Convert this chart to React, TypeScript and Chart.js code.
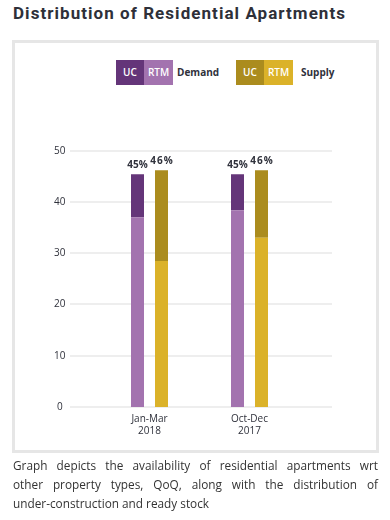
import React, { useEffect, useRef } from "react";
import { Chart, registerables } from "chart.js";

Chart.register(...registerables);

const categories = [["Jan-Mar", "2018"], ["Oct-Dec", "2017"]];
const demandRTM = [37.0, 38.4];
const demandUC = [8.4, 7.0];
const supplyRTM = [28.5, 33.0];
const supplyUC = [17.7, 13.2];
const demandLabels = ["45%", "45%"];
const supplyLabels = ["46%", "46%"];
const yMax = 50;
const yStep = 10;
const captionLines = [
  "Graph depicts the availability of residential apartments wrt",
  "other property types, QoQ, along with the distribution of",
  "under-construction and ready stock",
];

const COL_DEMAND_UC = "#643579";
const COL_DEMAND_RTM = "#a373af";
const COL_SUPPLY_UC = "#ab8c1e";
const COL_SUPPLY_RTM = "#dbb229";
const TEXT = "#2f313b";

const gridPlugin = {
  id: "extGrid",
  beforeDatasetsDraw(chart: any) {
    const { ctx, chartArea, scales } = chart;
    const y = scales.y;
    ctx.save();
    ctx.strokeStyle = "#eeeeee";
    ctx.lineWidth = 2;
    y.ticks.forEach((t: any) => {
      const py = Math.round(y.getPixelForValue(t.value));
      ctx.beginPath();
      ctx.moveTo(chartArea.left - 29.5, py);
      ctx.lineTo(chartArea.right + 32.5, py);
      ctx.stroke();
    });
    ctx.restore();
  },
};

const labelPlugin = {
  id: "topLabels",
  afterDatasetsDraw(chart: any) {
    const { ctx } = chart;
    ctx.save();
    ctx.font = "bold 10px 'Open Sans'";
    ctx.fillStyle = TEXT;
    ctx.textAlign = "center";
    ctx.textBaseline = "bottom";
    const pairs: [number, string[], number][] = [
      [1, demandLabels, 0],
      [3, supplyLabels, 1],
    ];
    pairs.forEach(([di, labels, sp]) => {
      const meta = chart.getDatasetMeta(di);
      meta.data.forEach((el: any, i: number) => {
        (ctx as any).letterSpacing = sp ? "1px" : "0px";
        ctx.fillText(labels[i], el.x + (sp ? 0.5 : 0), el.y - 4);
      });
    });
    ctx.restore();
  },
};

function ChartView() {
  const ref = useRef<HTMLCanvasElement | null>(null);
  useEffect(() => {
    if (!ref.current) return;
    const chart = new Chart(ref.current, {
      type: "bar",
      data: {
        labels: categories as any,
        datasets: [
          { label: "Demand RTM", data: demandRTM, backgroundColor: COL_DEMAND_RTM, stack: "Demand" },
          { label: "Demand UC", data: demandUC, backgroundColor: COL_DEMAND_UC, stack: "Demand" },
          { label: "Supply RTM", data: supplyRTM, backgroundColor: COL_SUPPLY_RTM, stack: "Supply" },
          { label: "Supply UC", data: supplyUC, backgroundColor: COL_SUPPLY_UC, stack: "Supply" },
        ],
      },
      options: {
        responsive: false,
        animation: false,
        devicePixelRatio: 1,
        layout: { padding: { left: 39.5, right: 90.5, top: 150.7, bottom: 83 } },
        datasets: {
          bar: { categoryPercentage: 0.48, barPercentage: 13 / 24, borderWidth: 0 } as any,
        },
        plugins: { legend: { display: false }, tooltip: { enabled: false } },
        scales: {
          x: {
            grid: { display: false, drawTicks: false },
            border: { display: false },
            ticks: { padding: 6, color: TEXT, font: { family: "'Open Sans'", size: 10 } },
            afterFit(s: any) { s.height = 30; },
          },
          y: {
            stacked: true,
            min: 0,
            max: yMax,
            grid: { display: false, drawTicks: false },
            border: { display: false },
            ticks: {
              stepSize: yStep,
              padding: 34,
              crossAlign: "center",
              color: TEXT,
              font: { family: "'Open Sans'", size: 10 },
            },
            afterFit(s: any) { s.width = 60; },
          },
        },
      },
      plugins: [gridPlugin, labelPlugin],
    });
    return () => chart.destroy();
  }, []);
  return (
    <canvas
      ref={ref}
      width={390}
      height={520}
      style={{ position: "absolute", left: 0, top: 0, width: 390, height: 520, pointerEvents: "none" }}
    />
  );
}

const boxText: React.CSSProperties = {
  position: "absolute",
  font: "600 10px 'Open Sans'",
  height: 25,
  color: "#ffffff",
  lineHeight: "25px",
  textAlign: "center",
};
const legendLabel: React.CSSProperties = {
  position: "absolute",
  font: "bold 10px 'Open Sans'",
  top: 60,
  lineHeight: "25px",
  color: TEXT,
};

export default function App() {
  return (
    <div style={{ position: "absolute", left: 0, top: 0, width: 390, height: 520, background: "#fff" }}>
      <div
        style={{
          position: "absolute",
          font: "bold 17px Roboto",
          left: 13,
          top: 3,
          letterSpacing: "1.05px",
          color: "#2e3039",
          whiteSpace: "nowrap",
        }}
      >
        Distribution of Residential Apartments
      </div>
      <div
        style={{
          position: "absolute",
          left: 12,
          top: 40,
          width: 361,
          height: 407,
          border: "3px solid #e6e6e6",
        }}
      />
      <div style={{ ...boxText, left: 116, top: 60, width: 28, background: COL_DEMAND_UC }}>UC</div>
      <div style={{ ...boxText, left: 144, top: 60, width: 29, background: COL_DEMAND_RTM }}>RTM</div>
      <div style={{ ...legendLabel, left: 177 }}>Demand</div>
      <div style={{ ...boxText, left: 236, top: 60, width: 28, background: COL_SUPPLY_UC }}>UC</div>
      <div style={{ ...boxText, left: 264, top: 60, width: 29, background: COL_SUPPLY_RTM }}>RTM</div>
      <div style={{ ...legendLabel, left: 301 }}>Supply</div>
      <ChartView />
      <div
        style={{
          position: "absolute",
          font: "11.8px 'Open Sans'",
          left: 13,
          top: 456,
          width: 365,
          lineHeight: "19px",
          color: "#333333",
        }}
      >
        {captionLines.map((line, i) => (
          <div
            key={i}
            style={{
              whiteSpace: "nowrap",
              textAlign: "justify",
              textAlignLast: i < captionLines.length - 1 ? "justify" : "left",
            }}
          >
            {line}
          </div>
        ))}
      </div>
    </div>
  );
}
